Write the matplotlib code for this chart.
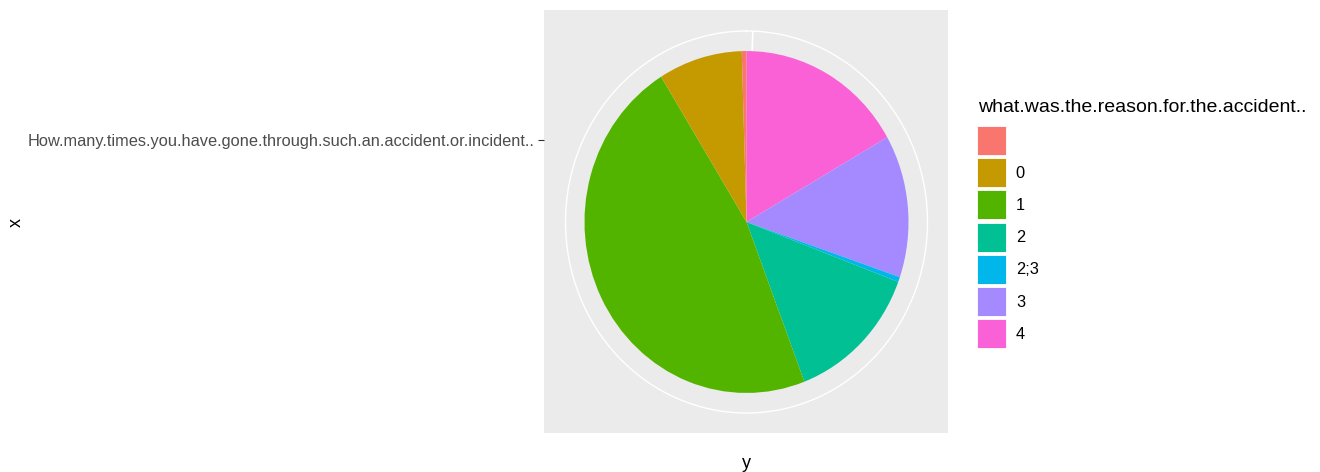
import matplotlib.pyplot as plt
from matplotlib.patches import Patch
import numpy as np

plt.rcParams['font.family'] = ['Liberation Sans', 'DejaVu Sans']

# answers to "what.was.the.reason.for.the.accident.." (counts)
reasons = ["", "0", "1", "2", "2;3", "3", "4"]
counts = [1, 18, 101, 29, 1, 29, 36]
colors = ["#F8766D", "#C49A00", "#53B400", "#00C094", "#00B6EB", "#A58AFF", "#FB61D7"]
y_category = "How.many.times.you.have.gone.through.such.an.accident.or.incident.."
legend_title = "what.was.the.reason.for.the.accident.."

W, H = 1320, 472
fig = plt.figure(figsize=(W / 100, H / 100), dpi=100)


def box(x0, y0, x1, y1):
    return [x0 / W, 1 - y1 / H, (x1 - x0) / W, (y1 - y0) / H]


# grey panel
bg = fig.add_axes(box(544, 10, 948, 433))
bg.set_facecolor("#EBEBEB")
bg.set_xlim(544, 948)
bg.set_ylim(433, 10)
bg.set_xticks([])
bg.set_yticks([140])
bg.set_yticklabels([y_category], fontsize=11.8, color="#4D4D4D")
bg.tick_params(axis="y", length=4, width=0.8, color="#333333", pad=3)
for s in bg.spines.values():
    s.set_visible(False)

# pie as stacked bar in polar coords, ggplot order (last level first, clockwise from top)
ax = fig.add_axes(box(565.5, 31, 927.5, 413), projection="polar")
ax.set_aspect("auto")
ax.patch.set_alpha(0)
ax.set_theta_zero_location("N")
ax.set_theta_direction(-1)
total = sum(counts)
start = 0.0
for lab, c, col in zip(reasons[::-1], counts[::-1], colors[::-1]):
    w = c / total * 2 * np.pi
    ax.bar(start, 1.0, width=w, bottom=0, align="edge", color=col, linewidth=0)
    start += w
ax.set_ylim(0, 181 / 162)
ax.set_yticks([])
ax.set_xticks([np.deg2rad(2.0)])
ax.set_xticklabels([])
ax.tick_params(axis="x", length=0)
ax.xaxis.grid(True, color="white", linewidth=1.2)
ax.set_axisbelow(True)
ax.spines["polar"].set_color("white")
ax.spines["polar"].set_linewidth(1.0)

fig.text(746 / W, 1 - 463 / H, "y", ha="center", va="center", fontsize=13)
fig.text(16 / W, 1 - 222 / H, "x", ha="center", va="center", fontsize=13, rotation=90)

# legend title placed on its own, keys below it
fig.text(978 / W, 1 - 107 / H, legend_title, ha="left", va="center", fontsize=14)
handles = [Patch(facecolor=col, edgecolor="white", linewidth=0.6) for col in colors]
leg = fig.legend(handles, reasons, loc="upper left",
                 bbox_to_anchor=(977 / W, 1 - 126 / H), frameon=False,
                 fontsize=11.8, handlelength=1.74, handleheight=2.34,
                 labelspacing=0.2, handletextpad=0.63, borderpad=0, borderaxespad=0)

fig.savefig("out.png", dpi=100)
